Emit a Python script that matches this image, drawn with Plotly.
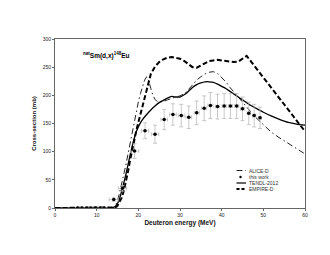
import plotly.graph_objects as go

# ---- data ----
alice_e = [0, 14, 14.5, 15, 15.5, 16, 16.5, 17, 17.5, 18, 18.5, 19, 19.5, 20, 20.5, 21, 21.5, 22,
           22.5, 23, 23.5, 24, 24.5, 25, 26, 27, 28, 29, 30, 31, 32, 33, 34, 35, 36, 37, 38, 39,
           40, 41, 42, 43, 44, 45, 46, 47, 48, 50, 52, 54, 56, 58, 60]
alice_s = [0, 0, 4, 13, 27, 42, 58, 76, 95, 115, 135, 154, 172, 188, 203, 216, 227, 233,
           226, 212, 200, 193, 189, 188, 189, 192, 195, 197, 199, 203, 210, 219, 227, 233, 238, 241, 242, 239,
           232, 224, 214, 205, 196, 187, 178, 170, 162, 148, 134, 124, 115, 106, 96]

tendl_e = [0, 13.5, 14, 14.5, 15, 15.5, 16, 16.5, 17, 17.5, 18, 18.5, 19, 19.5, 20, 20.5, 21, 22,
           23, 24, 25, 26, 27, 28, 29, 30, 31, 32, 33, 34, 35, 36, 37, 38, 39, 40, 41, 42, 43, 44,
           45, 46, 47, 48, 50, 52, 54, 56, 58, 60]
tendl_s = [0, 0, 1, 3, 8, 17, 30, 44, 59, 76, 93, 109, 123, 135, 144, 151, 157, 166,
           174, 181, 187, 191, 195, 198, 197, 197, 201, 207, 214, 219, 222, 224, 224, 223, 220, 216, 212, 207, 202, 197,
           192, 187, 182, 178, 170, 163, 157, 152, 149, 147]

empire_e = [0, 14, 14.5, 15, 15.5, 16, 16.5, 17, 17.5, 18, 18.5, 19, 19.5, 20, 20.5, 21, 21.5, 22,
            22.5, 23, 24, 25, 26, 27, 28, 29, 30, 31, 32, 33, 34, 35, 36, 37, 38, 39, 40, 41, 42, 43,
            44, 45, 45.5, 46, 60]
empire_s = [0, 0, 1, 4, 10, 18, 30, 46, 64, 84, 103, 121, 137, 152, 167, 182, 197, 211,
            225, 238, 251, 259, 264, 267, 268, 267, 265, 261, 255, 250, 249, 253, 258, 261, 262, 263, 262, 261, 260, 259,
            260, 265, 268, 270, 136]

exp_e = [5.4, 6.5, 7.6, 8.6, 9.7, 10.8, 11.8, 14.1, 16.2, 19.1, 21.6, 24.0, 26.2, 28.3, 30.3, 32.1,
         34.0, 35.8, 37.3, 39.0, 40.6, 42.1, 43.6, 45.0, 46.5, 47.8, 49.2]
exp_s = [0, 0, 0, 0, 0, 0, 0, 15, 35, 101, 137, 131, 157, 166, 164, 161,
         169, 177, 182, 180, 181, 181, 181, 176, 168, 164, 160]
exp_ds = [0, 0, 0, 0, 0, 0, 0, 3, 5, 13, 14, 16, 18, 19, 20, 20,
          21, 22, 23, 22, 22, 22, 22, 21, 20, 20, 19]
exp_de = [0, 0, 0, 0, 0, 0, 0, 1.1, 1.0, 1.0, 0.9, 0.9, 0.8, 0.8, 0.7, 0.7,
          0.6, 0.6, 0.6, 0.5, 0.5, 0.5, 0.5, 0.5, 0.4, 0.4, 0.4]

x_ticks = [0, 10, 20, 30, 40, 50, 60]
y_ticks = [0, 50, 100, 150, 200, 250, 300]

legend_names = ["ALICE-D", "this work", "TENDL-2012", "EMPIRE-D"]

FONT = "Liberation Sans, Arial, sans-serif"

fig = go.Figure()

fig.add_trace(go.Scatter(x=alice_e, y=alice_s, mode="lines", name=legend_names[0],
                         line=dict(color="#222222", width=1, dash="6px,3px,1.5px,3px")))
fig.add_trace(go.Scatter(x=tendl_e, y=tendl_s, mode="lines", name=legend_names[2],
                         line=dict(color="#000000", width=1.3, shape="spline", smoothing=0.6)))
fig.add_trace(go.Scatter(x=empire_e, y=empire_s, mode="lines", name=legend_names[3],
                         line=dict(color="#000000", width=2, dash="5px,2.5px")))
fig.add_trace(go.Scatter(x=exp_e, y=exp_s, mode="markers", name=legend_names[1],
                         marker=dict(color="#000000", size=3.5),
                         error_y=dict(type="data", array=exp_ds, color="#bbbbbb", thickness=0.8, width=2),
                         error_x=dict(type="data", array=exp_de, color="#bbbbbb", thickness=0.8, width=2)))

# manual compact legend (paper coords computed from pixel layout)
L, R, T, B = 47, 297, 31, 200
def px(x):
    return (x - L) / (R - L)
def py(y):
    return (B - y) / (B - T)

rows = [162.5, 169, 175, 181]
styles = [dict(color="#222222", width=1, dash="6px,3px,1.5px,3px"), None,
          dict(color="#000000", width=1.2), dict(color="#000000", width=2, dash="3px,2px")]
for i, (yy, st) in enumerate(zip(rows, styles)):
    if st is None:
        fig.add_shape(type="circle", xref="paper", yref="paper",
                      x0=px(231.3), x1=px(233.7), y0=py(yy + 1.2), y1=py(yy - 1.2),
                      fillcolor="#000000", line=dict(width=0))
    else:
        fig.add_shape(type="line", xref="paper", yref="paper",
                      x0=px(228.5), x1=px(238), y0=py(yy), y1=py(yy), line=st)
    fig.add_annotation(xref="paper", yref="paper", x=px(239), y=py(yy), text=legend_names[i],
                       showarrow=False, xanchor="left", yanchor="middle",
                       font=dict(family=FONT, size=5, color="#333333"))

fig.add_annotation(xref="paper", yref="paper", x=px(73), y=py(47.5), xanchor="left", yanchor="middle",
                   text="<b><sup>nat</sup>Sm(d,x)<sup>148</sup>Eu</b>", showarrow=False,
                   font=dict(family=FONT, size=6.5, color="#000000"))

axis_common = dict(showline=True, linecolor="#666666", linewidth=1, mirror=True,
                   ticks="outside", ticklen=2, tickcolor="#666666", tickwidth=1,
                   showgrid=False, zeroline=False,
                   tickfont=dict(family=FONT, size=5, color="#222222"))

fig.update_xaxes(range=[0, 60], tickvals=x_ticks, ticktext=[str(v) for v in x_ticks],
                 title=dict(text="<b>Deuteron energy (MeV)</b>", standoff=3,
                            font=dict(family=FONT, size=6.5, color="#111111")),
                 **axis_common)
fig.update_yaxes(range=[0, 300], tickvals=y_ticks, ticktext=[str(v) for v in y_ticks],
                 title=dict(text="<b>Cross-section (mb)</b>", standoff=5,
                            font=dict(family=FONT, size=6, color="#111111")),
                 **axis_common)

fig.update_layout(width=330, height=255, margin=dict(l=L, r=330 - R, t=T, b=255 - B, autoexpand=False),
                  paper_bgcolor="white", plot_bgcolor="white", showlegend=False)

fig.write_html("out.html")
